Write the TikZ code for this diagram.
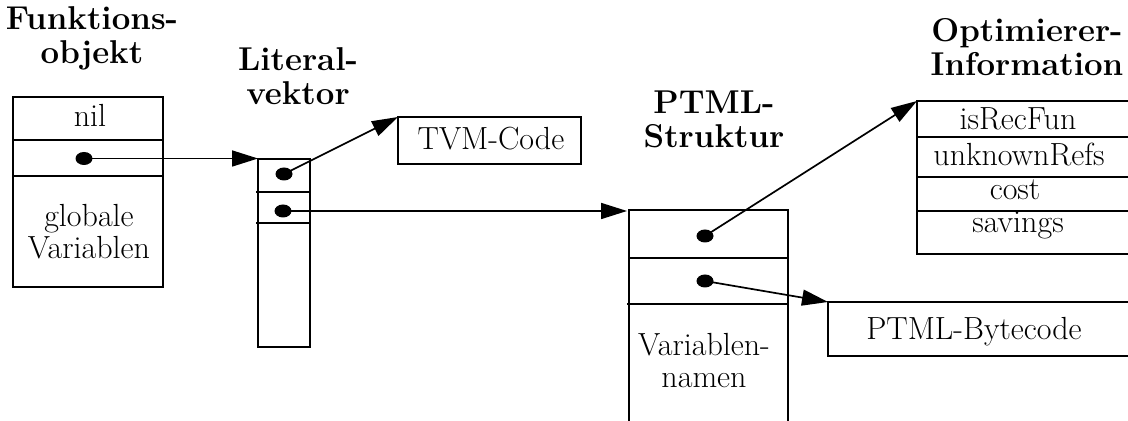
\documentclass[tikz,border=0pt]{standalone}
\usetikzlibrary{arrows.meta,shapes.geometric}
\begin{document}
\begin{tikzpicture}[x=0.5pt,y=-0.5pt,
  every node/.style={inner sep=0pt, outer sep=0pt},
  txt/.style={font=\fontsize{16}{16}\selectfont, align=center},
  title/.style={font=\fontsize{16.5}{17}\selectfont\bfseries, align=center},
  frame/.style={line width=0.9pt},
  ptr/.style={line width=0.85pt, -{Triangle[length=13pt,width=8pt]}},
  dot/.style={ellipse, fill, minimum width=8.5pt, minimum height=6.5pt},
]
\useasboundingbox (0,0) rectangle (1128,421);

% Funktionsobjekt
\draw[frame] (13,97) rectangle (163,287);
\draw[frame] (13,140) -- (163,140) (13,176) -- (163,176);
\node[title] (tfo) at (92,38) {Funktions-\\objekt};
\node[txt, anchor=base] (nil) at (90,127) {nil};
\node[txt] (glob) at (89,232) {globale\\Variablen};
\node[dot] (fod) at (84,158.5) {};

% Literalvektor
\draw[frame] (258,159) rectangle (310,347);
\draw[frame] (256,192) -- (310,192) (256,223) -- (310,223);
\coordinate (lvNW) at (258,159);
\node[title] (tlv) at (298,76) {Literal-\\vektor};
\node[dot] (lvd1) at (284,174) {};
\node[dot] (lvd2) at (283,211) {};

% TVM-Code
\node[draw, frame, minimum width=91.5pt, minimum height=23.5pt] (tvm) at (489.5,140.5) {};
\node[txt, anchor=base] at (491,150) {TVM-Code};

% PTML-Struktur (open at the bottom)
\draw[frame] (629,421) -- (629,210) -- (788,210) -- (788,421);
\draw[frame] (629,258) -- (788,258) (627,304) -- (788,304);
\coordinate (ptNW) at (627,210);
\node[title] (tpt) at (714,119) {PTML-\\Struktur};
\node[dot] (ptd1) at (705,236) {};
\node[dot] (ptd2) at (705,281) {};
\node[txt] (vn) at (704,361) {Variablen-\\namen};

% Optimierer-Information (open at the right)
\draw[frame] (1128,101) -- (917,101) -- (917,254) -- (1128,254);
\draw[frame] (917,137) -- (1128,137) (917,177) -- (1128,177) (917,211) -- (1128,211);
\coordinate (opNW) at (917,101);
\node[title] (top) at (1027,47) {Optimierer-\\Information};
\node[txt, anchor=base] at (1018,130) {isRecFun};
\node[txt, anchor=base] at (1019,166) {unknownRefs};
\node[txt, anchor=base] at (1015,200) {cost};
\node[txt, anchor=base] at (1018,233) {savings};

% PTML-Bytecode (open at the right)
\draw[frame] (1128,302) -- (828,302) -- (828,356) -- (1128,356);
\coordinate (bcNW) at (828,302);
\node[txt, anchor=base] at (974,340) {PTML-Bytecode};

% Pointers
\draw[ptr] (fod.center) -- (fod.center -| lvNW);
\draw[ptr] (lvd1.center) -- (tvm.north west);
\draw[ptr] (lvd2.center) -- (lvd2.center -| ptNW);
\draw[ptr] (ptd1.center) -- (opNW);
\draw[ptr] (ptd2.center) -- (bcNW);
\end{tikzpicture}
\end{document}
